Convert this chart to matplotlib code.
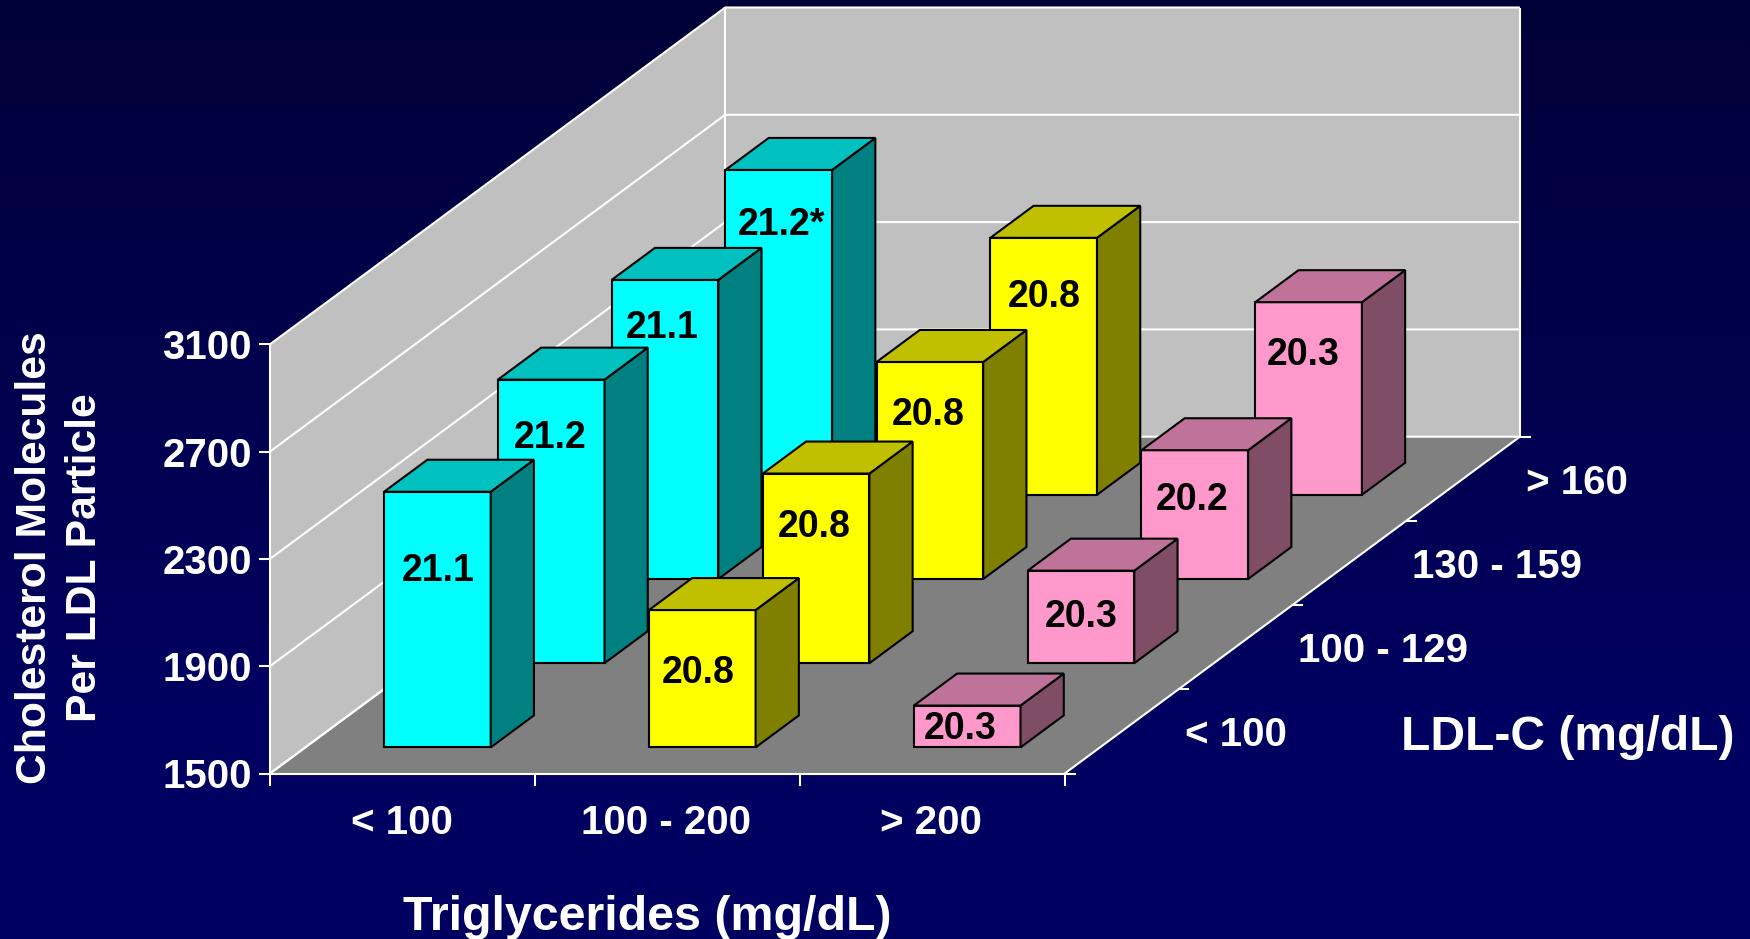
import numpy as np
import matplotlib
matplotlib.use("Agg")
import matplotlib.pyplot as plt
from matplotlib.patches import Polygon

plt.rcParams['font.family'] = ['Liberation Sans', 'DejaVu Sans']
plt.rcParams['font.weight'] = 'bold'

tg_labels = ["< 100", "100 - 200", "> 200"]
ldl_labels = ["< 100", "100 - 129", "130 - 159", "> 160"]
y_ticks = [1500, 1900, 2300, 2700, 3100]

# bar heights, front row (LDL < 100) first
tg_low = [2453, 2557, 2615, 2711]
tg_mid = [2012, 2207, 2309, 2458]
tg_high = [1656, 1845, 1980, 2218]

# printed labels on the bars
text_low = ["21.1", "21.2", "21.1", "21.2*"]
text_mid = ["20.8", "20.8", "20.8", "20.8"]
text_high = ["20.3", "20.3", "20.2", "20.3"]

# label nudges in px from the top centre of the front face (hand placed in the original)
nudge_low = [(0, 79), (-1, 58), (-3, 48), (2, 55)]
nudge_mid = [(-4, 63), (-2, 53), (-2, 53), (0, 59)]
nudge_high = [(-7, 23), (0, 46), (-3, 50), (-6, 53)]

colors = [("#00FFFF", "#008080", "#00C0C0"),
          ("#FFFF00", "#808000", "#C0C000"),
          ("#FF99CC", "#804D66", "#C0739A")]

# projection of the chart box onto the picture, in px
x0, y0 = 270.0, 773.5
col_w = 264.9
row_dx, row_dy = 113.8, -84.2
px_per_unit = 107.3 / 400.0
bar_c = (0.2975, 0.70)
bar_r = (0.31, 0.69)


def proj(col, row, val=1500):
    return (x0 + col * col_w + row * row_dx,
            y0 + row * row_dy - (val - 1500) * px_per_unit)


fig = plt.figure(figsize=(17.5, 9.39), dpi=100)
ax = fig.add_axes([0, 0, 1, 1])
ax.set_xlim(0, 1750)
ax.set_ylim(939, 0)
ax.axis('off')

# background gradient
grad = np.linspace(0, 1, 256).reshape(-1, 1)
grad = np.clip(grad / 0.75, 0, 1)
bg = np.zeros((256, 1, 3))
bg[:, :, 2] = (0x38 + (0x60 - 0x38) * grad) / 255.0
ax.imshow(bg, extent=[0, 1750, 939, 0], aspect='auto', zorder=0)

n_col, n_row = len(tg_labels), len(ldl_labels)
vmin, vmax = y_ticks[0], y_ticks[-1]
white = dict(color="white", lw=1.5, solid_capstyle='butt', zorder=3)

# walls and floor
ax.add_patch(Polygon([proj(0, 0, vmin), proj(0, n_row, vmin), proj(0, n_row, vmax), proj(0, 0, vmax)],
                     fc="#C0C0C0", ec="none", zorder=2))
ax.add_patch(Polygon([proj(0, n_row, vmin), proj(n_col, n_row, vmin), proj(n_col, n_row, vmax), proj(0, n_row, vmax)],
                     fc="#C0C0C0", ec="none", zorder=2))
ax.add_patch(Polygon([proj(0, 0), proj(n_col, 0), proj(n_col, n_row), proj(0, n_row)],
                     fc="#808080", ec="none", zorder=2))

# gridlines and y ticks
for v in y_ticks:
    pts = [proj(0, 0, v), proj(0, n_row, v), proj(n_col, n_row, v)]
    ax.plot([p[0] for p in pts], [p[1] for p in pts], **white)
    px, py = proj(0, 0, v)
    ax.plot([px - 11, px], [py, py], **white)
    ax.text(px - 18, py + 4, str(v), color="white", fontsize=29, ha='right', va='center', zorder=3)

# box edges
for a, b in [(proj(0, 0, vmin), proj(0, 0, vmax)),
             (proj(0, n_row, vmin), proj(0, n_row, vmax)),
             (proj(n_col, n_row, vmin), proj(n_col, n_row, vmax)),
             (proj(0, 0), proj(n_col, 0)),
             (proj(n_col, 0), proj(n_col, n_row)),
             (proj(0, 0), proj(0, n_row))]:
    ax.plot([a[0], b[0]], [a[1], b[1]], **white)

# x ticks and labels
for i in range(n_col + 1):
    px, py = proj(i, 0)
    ax.plot([px, px], [py, py + 12], **white)
for i, lab in enumerate(tg_labels):
    px, py = proj(i + 0.5, 0)
    ax.text(px - 1, py + 50, lab, color="white", fontsize=29, ha='center', va='center', zorder=3)

# depth ticks and labels
for r in range(n_row + 1):
    px, py = proj(n_col, r)
    ax.plot([px, px + 11], [py, py], **white)
for r, lab in enumerate(ldl_labels):
    px, py = proj(n_col, r + 0.5)
    ax.text(px + 63, py + 4, lab, color="white", fontsize=29, ha='left', va='center', zorder=3)

# bars, back row first
series = [tg_low, tg_mid, tg_high]
texts = [text_low, text_mid, text_high]
nudges = [nudge_low, nudge_mid, nudge_high]
z = 10
for r in range(n_row - 1, -1, -1):
    for c in range(n_col):
        val = series[c][r]
        front, side, top = colors[c]
        cl, cr = c + bar_c[0], c + bar_c[1]
        rf, rb = r + bar_r[0], r + bar_r[1]
        for pts, fc in [([proj(cl, rf), proj(cr, rf), proj(cr, rf, val), proj(cl, rf, val)], front),
                        ([proj(cr, rf), proj(cr, rb), proj(cr, rb, val), proj(cr, rf, val)], side),
                        ([proj(cl, rf, val), proj(cr, rf, val), proj(cr, rb, val), proj(cl, rb, val)], top)]:
            ax.add_patch(Polygon(pts, fc=fc, ec="black", lw=1.5, joinstyle='miter', zorder=z))
        tx, ty = proj(c + 0.5, rf, val)
        dx, dy = nudges[c][r]
        ax.text(tx + dx, ty + dy, texts[c][r], color="black", fontsize=27, ha='center', va='center', zorder=z + 1)
        z += 2

# axis titles
ax.text(647, 918, "Triglycerides (mg/dL)", color="white", fontsize=34.8, ha='center', va='center', zorder=3)
ax.text(1401, 737, "LDL-C (mg/dL)", color="white", fontsize=34.6, ha='left', va='center', zorder=3)
ax.text(60, 558, "Cholesterol Molecules\nPer LDL Particle", color="white", fontsize=30.7, rotation=90,
        ha='center', va='center', multialignment='center', linespacing=1.32, zorder=3)

fig.savefig("out.png", dpi=100)
